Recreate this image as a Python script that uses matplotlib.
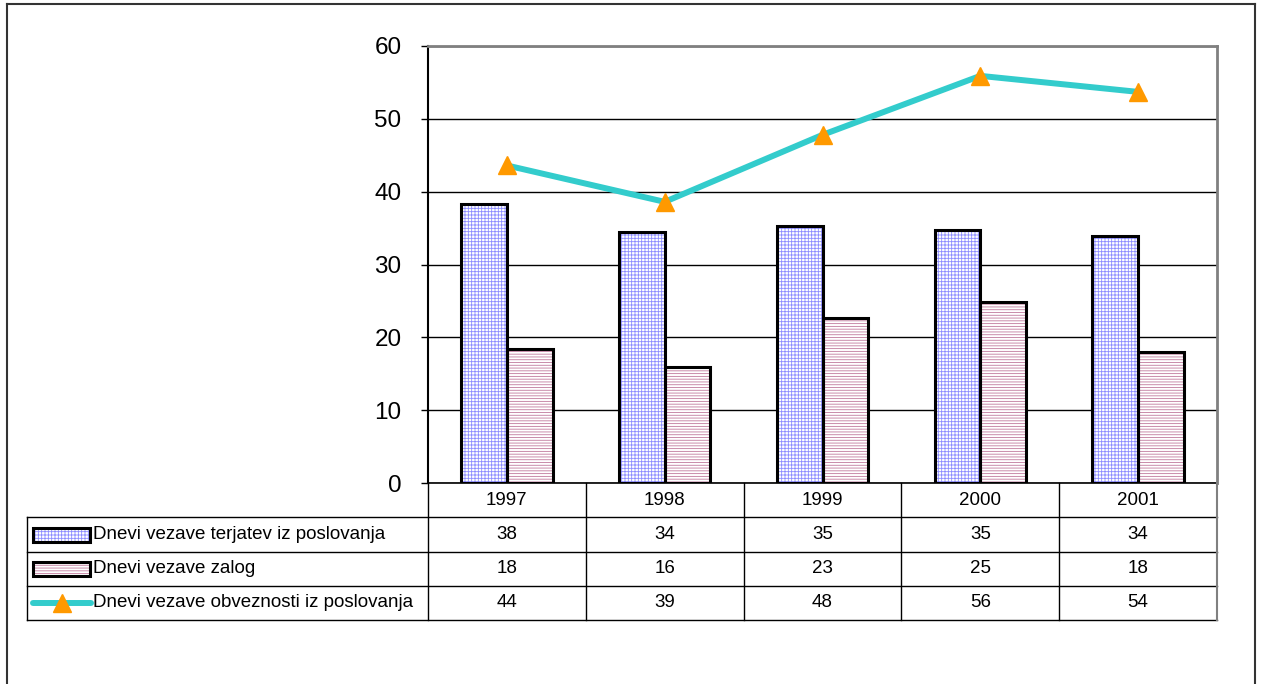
import matplotlib.pyplot as plt
import numpy as np
from matplotlib.lines import Line2D
from matplotlib.patches import Rectangle

plt.rcParams["font.family"] = ["Liberation Sans", "DejaVu Sans"]
plt.rcParams["hatch.linewidth"] = 0.6

years = ["1997", "1998", "1999", "2000", "2001"]
terjatve = [38.3, 34.4, 35.3, 34.7, 33.9]
zaloge = [18.4, 15.9, 22.6, 24.9, 18.0]
obveznosti = [43.6, 38.6, 47.8, 55.9, 53.7]
series_names = [
    "Dnevi vezave terjatev iz poslovanja",
    "Dnevi vezave zalog",
    "Dnevi vezave obveznosti iz poslovanja",
]

W, H = 1263, 684
blue_hatch = "#8c8cff"
pink_hatch = "#c0789c"
line_color = "#33CCCC"
marker_color = "#FF9900"
table_fs = 13.5


def fx(px):
    return px / W


def fy(py):
    return 1 - py / H


fig = plt.figure(figsize=(W / 100, H / 100), dpi=100)

# plot area in pixel coordinates of the reference
left, right, top, bottom = 428, 1217, 46, 483
ax = fig.add_axes([fx(left), fy(bottom), fx(right - left), (bottom - top) / H])
x = np.arange(len(years))
width = 0.29

def hatched_bars(axis, xs, vals, w, hatch, hcolor):
    axis.bar(xs, vals, w, color="white", edgecolor=hcolor, hatch=hatch, linewidth=0, zorder=3)
    axis.bar(xs, vals, w, fill=False, edgecolor="black", linewidth=2.2, zorder=4)

hatched_bars(ax, x - width / 2, terjatve, width, "+++++", blue_hatch)
hatched_bars(ax, x + width / 2, zaloge, width, "------", pink_hatch)
ax.plot(x, obveznosti, color=line_color, linewidth=4.3, zorder=5, solid_capstyle="round")
ax.plot(x, obveznosti, linestyle="none", marker="^", markersize=12.5,
        color=marker_color, markeredgecolor=marker_color, zorder=6)

ax.set_xlim(-0.5, len(years) - 0.5)
ax.set_ylim(0, 60)
ax.set_yticks(range(0, 61, 10))
ax.tick_params(axis="y", labelsize=17.5, length=5, width=1, pad=14, direction="out")
ax.set_xticks([])
ax.yaxis.grid(True, color="black", linewidth=1)
ax.set_axisbelow(True)
ax.spines["left"].set_linewidth(1.5)
for s in ("top", "right"):
    ax.spines[s].set_color("#808080")
    ax.spines[s].set_linewidth(2)
ax.spines["bottom"].set_linewidth(1.2)

# data table below the plot
t_left, t_bottom = 27, 620
cat_w = (right - left) / len(years)
tab = fig.add_axes([fx(t_left), fy(t_bottom), fx(right - t_left), (t_bottom - bottom) / H])
x0 = -0.5 - (left - t_left) / cat_w
tab.set_xlim(x0, len(years) - 0.5)
tab.set_ylim(4, 0)
tab.axis("off")

lw = 1.0
for r in (1, 2, 3, 4):
    tab.plot([x0, len(years) - 0.5], [r, r], color="black", linewidth=lw, clip_on=False)
for b in np.arange(len(years) + 1) - 0.5:
    col = "#808080" if b == len(years) - 0.5 else "black"
    tab.plot([b, b], [0, 4], color=col, linewidth=1.5 if col != "black" else lw, clip_on=False)
tab.plot([x0, x0], [1, 4], color="black", linewidth=lw, clip_on=False)

for i, yr in enumerate(years):
    tab.text(i, 0.5, yr, ha="center", va="center", fontsize=table_fs)
for r, vals in enumerate([terjatve, zaloge, obveznosti], start=1):
    for i, v in enumerate(vals):
        tab.text(i, r + 0.5, f"{round(v):d}", ha="center", va="center", fontsize=table_fs)

# legend keys in the first column
px = 1 / cat_w
kx0, kx1 = x0 + 6 * px, x0 + 63 * px
for r, hcol, hatch in ((1, blue_hatch, "+++++"), (2, pink_hatch, "------")):
    tab.add_patch(Rectangle((kx0, r + 0.3), kx1 - kx0, 0.42, facecolor="white",
                            edgecolor=hcol, hatch=hatch, linewidth=0, clip_on=False))
    tab.add_patch(Rectangle((kx0, r + 0.3), kx1 - kx0, 0.42, fill=False,
                            edgecolor="black", linewidth=2.2, clip_on=False))
tab.plot([x0 + 6 * px, x0 + 64 * px], [3.5, 3.5], color=line_color, linewidth=4.3,
         solid_capstyle="round", clip_on=False)
tab.plot([x0 + 35 * px], [3.5], marker="^", markersize=12.5, color=marker_color, clip_on=False)
for r, name in enumerate(series_names, start=1):
    tab.text(x0 + 66 * px, r + 0.5, name, ha="left", va="center", fontsize=table_fs)

# outer chart border
for xs, ys in (([7, 7], [4, H]), ([7, 1255], [4, 4]), ([1255, 1255], [4, H])):
    fig.add_artist(Line2D([fx(v) for v in xs], [fy(v) for v in ys],
                          color="#333333", linewidth=1.5))

fig.savefig("out.png", dpi=100)
